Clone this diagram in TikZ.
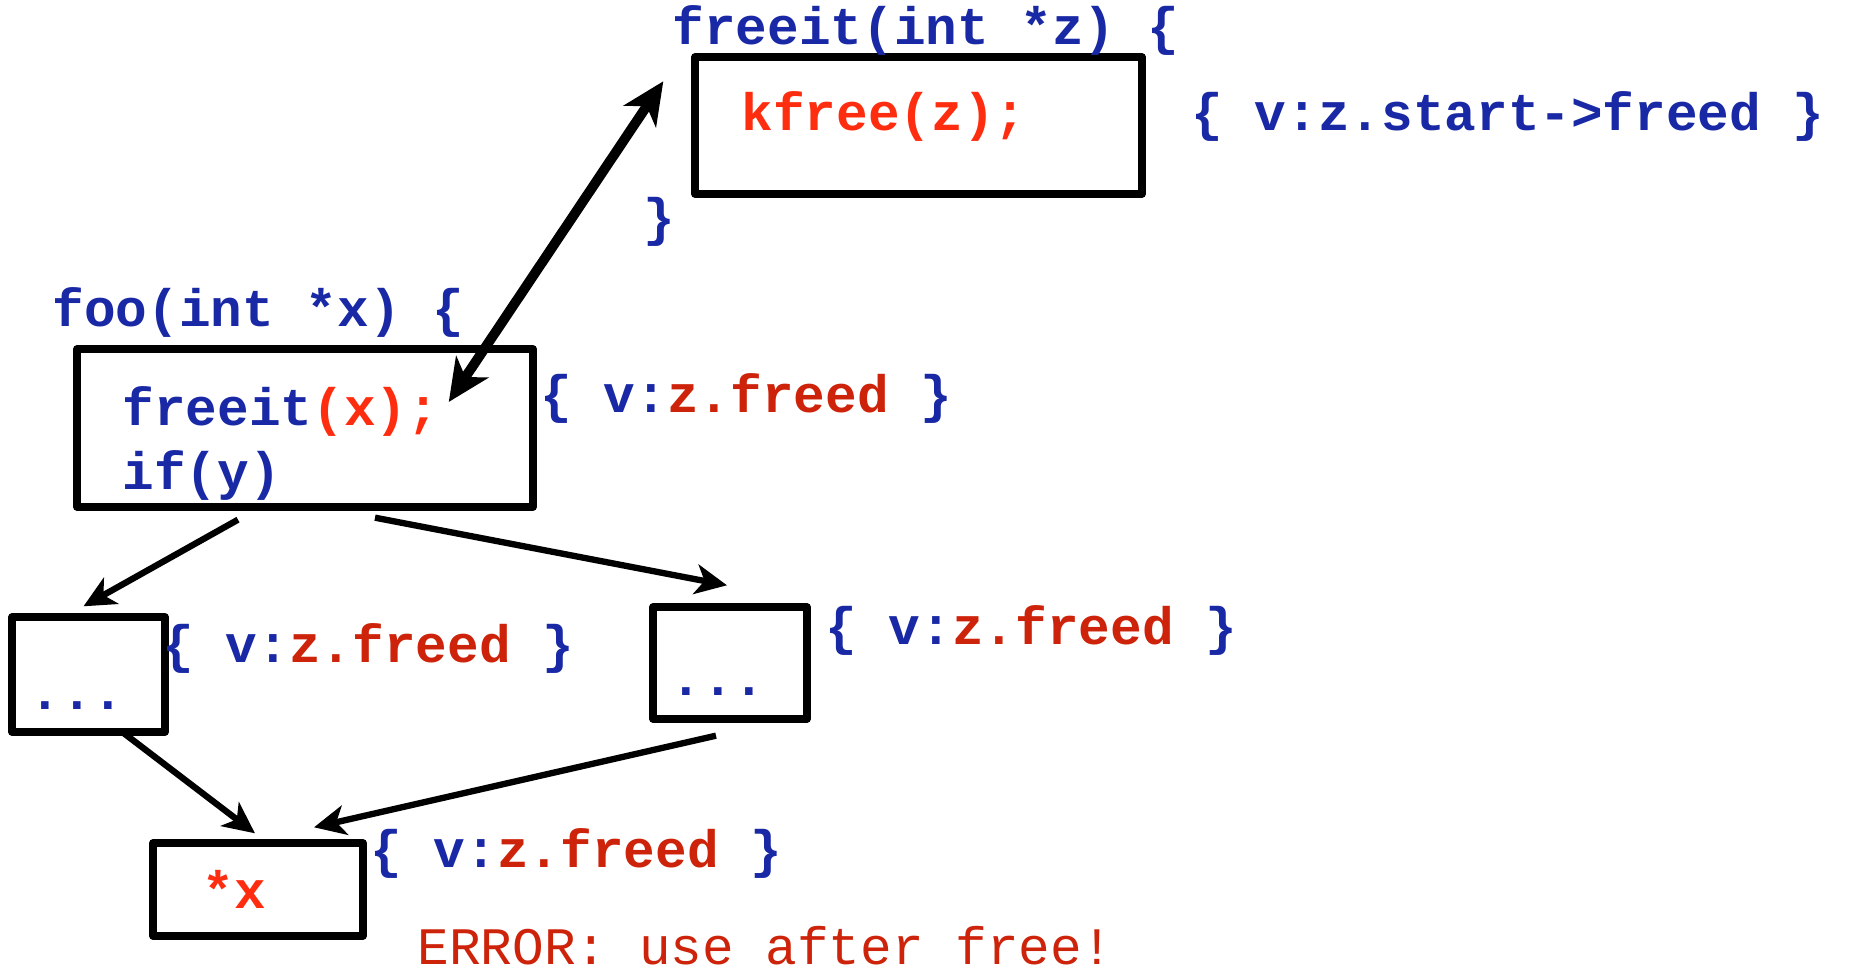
\documentclass[tikz,border=0pt]{standalone}
\usepackage{fontspec}
\setmonofont{Liberation Mono}
\usepackage{xcolor}
\usepackage{tikz}
\usetikzlibrary{arrows.meta}
\definecolor{codeblue}{RGB}{25,40,165}
\definecolor{hotred}{RGB}{255,45,15}
\definecolor{darkred}{RGB}{205,35,10}
\newcommand{\codefont}{\ttfamily\bfseries\fontsize{15}{18}\selectfont}
\newcommand{\plainfont}{\ttfamily\fontsize{15}{18}\selectfont}
\tikzset{
  every picture/.style={line join=round, >=Stealth},
  box/.style={draw, line width=2.1pt, inner sep=0pt},
  code/.style={font=\codefont, text=codeblue, anchor=base west, inner sep=0pt},
  flow/.style={-{Stealth[length=9pt,width=8.5pt,inset=2.5pt]}, line width=1.8pt},
  call/.style={{Stealth[length=12pt,width=11pt,inset=3.5pt]}-{Stealth[length=12pt,width=11pt,inset=3.5pt]}, line width=2.8pt},
}

\begin{document}
\begin{tikzpicture}
\useasboundingbox (0,0) rectangle (18.5,9.7);
\node[box, minimum width=4.47cm, minimum height=1.37cm] (kbox) at (9.185,8.445) {};
\node[box, minimum width=4.56cm, minimum height=1.58cm] (foobox) at (3.05,5.42) {};
\node[box, minimum width=1.53cm, minimum height=1.15cm] (lbox) at (0.885,2.955) {};
\node[box, minimum width=1.54cm, minimum height=1.12cm] (rbox) at (7.30,3.07) {};
\node[box, minimum width=2.10cm, minimum height=0.93cm] (xbox) at (2.58,0.805) {};
\node[code] (freeithead) at (6.72,9.25) {freeit(int *z) \{};
\node[code, text=hotred] (kfree) at (7.41,8.39) {kfree(z);};
\node[code] (startfreed) at (11.91,8.39) {\{ v:z.start->freed \}};
\node[code] (freeitend) at (6.43,7.34) {\}};
\node[code] (foohead) at (0.52,6.43) {foo(int *x) \{};
\node[code] (callx) at (1.22,5.44) {freeit\textcolor{hotred}{(x);}};
\node[code] (ify) at (1.22,4.80) {if(y)};
\node[code] (foofreed) at (5.40,5.57) {\{ v:\textcolor{darkred}{z.freed} \}};
\node[code] (ldots) at (0.29,2.60) {...};
\node[code] (lfreed) at (1.62,3.07) {\{ v:\textcolor{darkred}{z.freed} \}};
\node[code] (rdots) at (6.70,2.74) {...};
\node[code] (rfreed) at (8.25,3.25) {\{ v:\textcolor{darkred}{z.freed} \}};
\node[code, text=hotred] (derefx) at (2.02,0.61) {*x};
\node[code] (xfreed) at (3.70,1.02) {\{ v:\textcolor{darkred}{z.freed} \}};
\node[code, font=\plainfont, text=darkred] (error) at (4.17,0.05) {ERROR: use after free!};
\draw[call] ([shift={(0.9mm,1mm)}]callx.east) -- ([shift={(-2.8mm,-2.8mm)}]kbox.north west);
\draw[flow] ([shift={(-6.7mm,-0.9mm)}]foobox.south) -- ([shift={(-0.5mm,0.7mm)}]lbox.north);
\draw[flow] ([shift={(7mm,-0.7mm)}]foobox.south) -- ([shift={(-0.3mm,1.8mm)}]rbox.north);
\draw[flow] ([shift={(3.2mm,0.5mm)}]lbox.south) -- ([shift={(-0.3mm,0.6mm)}]xbox.north);
\draw[flow] ([shift={(-1.4mm,-1.3mm)}]rbox.south) -- ([shift={(5.6mm,1.2mm)}]xbox.north);
\end{tikzpicture}
\end{document}
